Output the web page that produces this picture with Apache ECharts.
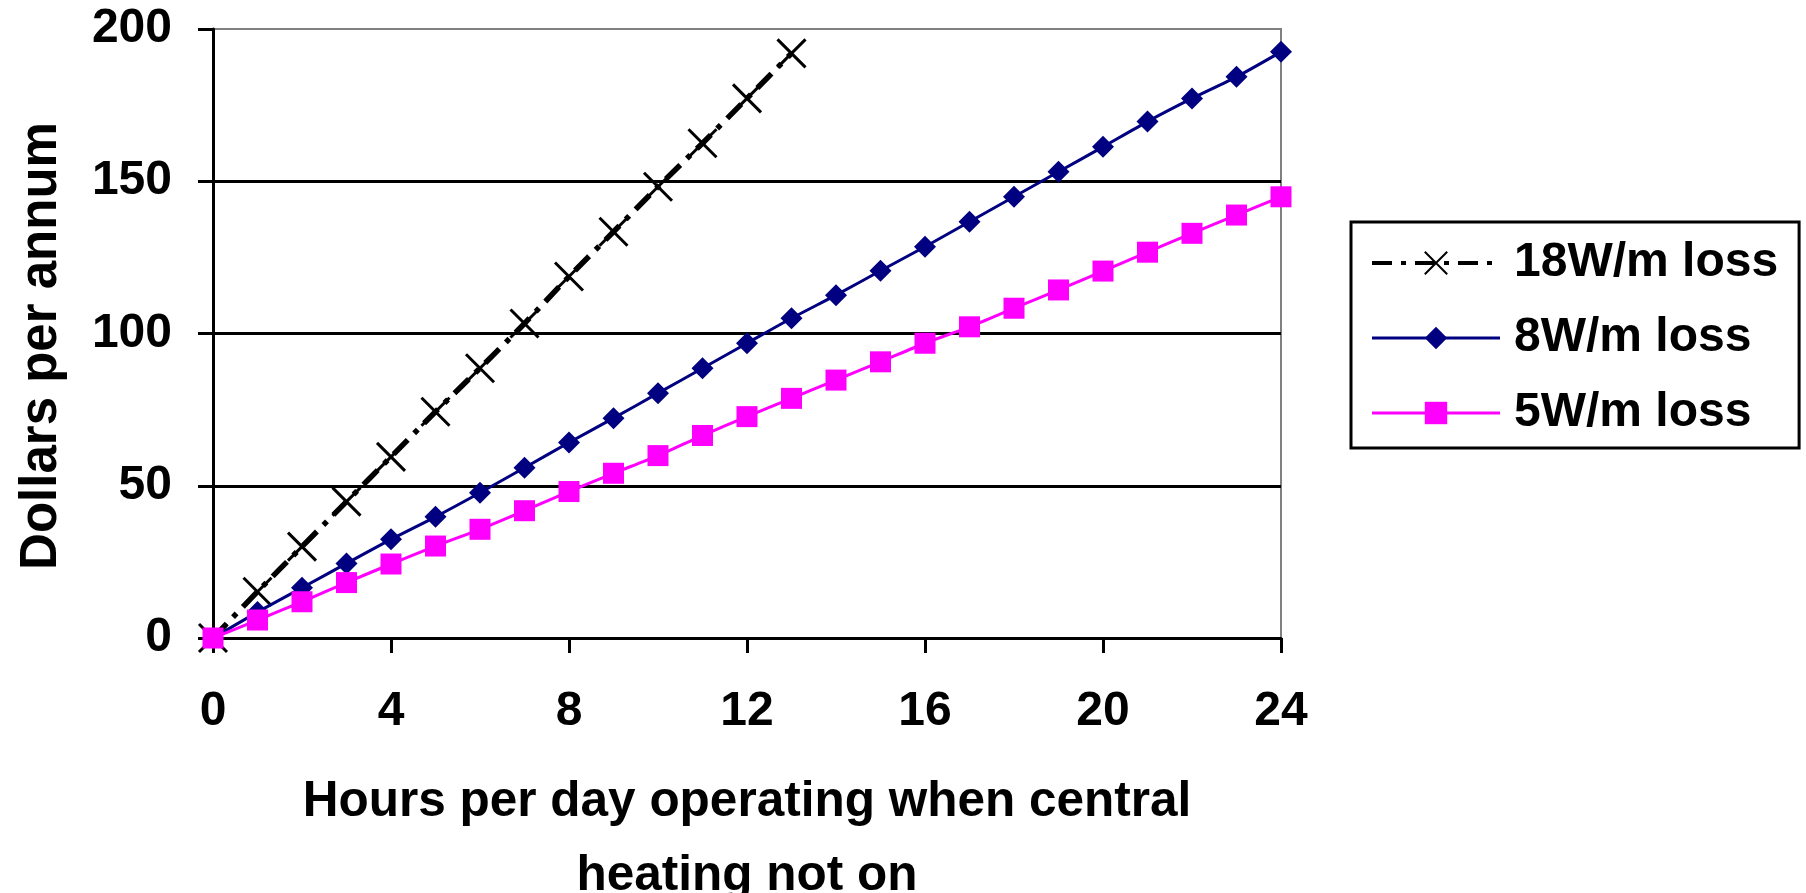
<!DOCTYPE html>
<html>
<head>
<meta charset="utf-8">
<script src="https://cdn.jsdelivr.net/npm/echarts@6/dist/echarts.min.js"></script>
<style>
  html, body { margin: 0; padding: 0; background: #fff; }
  #chart { width: 1806px; height: 893px; }
</style>
</head>
<body>
<div id="chart"></div>
<script>
// ---- data ----
var hours = [0,1,2,3,4,5,6,7,8,9,10,11,12,13,14,15,16,17,18,19,20,21,22,23,24];
var seriesNames = ['18W/m loss', '8W/m loss', '5W/m loss'];
var loss18 = [0, 15.2, 30, 44.8, 59.5, 74.3, 88.6, 103.3, 118.7, 133.4, 148.2, 162.5, 177.2, 192];
var loss8 = [0, 8.5, 16.5, 24.5, 32.4, 39.8, 47.7, 55.9, 64.2, 72.2, 80.4, 88.6, 96.8, 105, 112.6, 120.6, 128.5, 136.7, 144.9, 153.1, 161.3, 169.6, 177.2, 184.3, 192.5];
var loss5 = [0, 5.9, 11.9, 18.2, 24.3, 30.2, 35.7, 41.8, 48.1, 54.1, 59.9, 66.5, 72.7, 78.7, 84.7, 90.7, 96.8, 102.2, 108.3, 114.3, 120.5, 126.7, 132.9, 138.9, 144.9];
var xTicks = [0, 4, 8, 12, 16, 20, 24];
var yTicks = [0, 50, 100, 150, 200];
var xTitle = 'Hours per day operating when central\nheating not on';
var yTitle = 'Dollars per annum';

function pairs(vals) {
  return vals.map(function (v, i) { return [hours[i], v]; });
}

var FONT = '"Liberation Sans", Arial, sans-serif';
var chart = echarts.init(document.getElementById('chart'), null, { renderer: 'canvas' });

chart.setOption({
  animation: false,
  backgroundColor: '#ffffff',
  textStyle: { fontFamily: FONT },
  grid: {
    left: 213, right: 525, top: 29, bottom: 255,
    containLabel: false, outerBoundsMode: 'none',
    show: true, borderColor: '#808080', borderWidth: 2, backgroundColor: 'transparent'
  },
  legend: {
    orient: 'vertical',
    left: 1351, top: 222,
    padding: [17, 21, 11, 19],
    itemWidth: 128, itemHeight: 28, itemGap: 27,
    borderColor: '#000', borderWidth: 3,
    backgroundColor: '#fff',
    textStyle: { fontFamily: FONT, fontWeight: 'bold', fontSize: 48, color: '#000', lineHeight: 48, padding: [0, 0, 0, 9] },
    data: [
      { name: seriesNames[0], lineStyle: { width: 4 } },
      { name: seriesNames[1], lineStyle: { width: 3 } },
      { name: seriesNames[2], lineStyle: { width: 3 } }
    ]
  },
  xAxis: {
    type: 'value', min: 0, max: 24, interval: 4,
    name: xTitle, nameLocation: 'middle', nameGap: 127,
    nameTextStyle: { fontFamily: FONT, fontWeight: 'bold', fontSize: 49.5, color: '#000', lineHeight: 74 },
    axisLine: { show: true, onZero: false, lineStyle: { color: '#000', width: 3 } },
    axisTick: { show: true, inside: false, length: 15, lineStyle: { color: '#000', width: 3 } },
    axisLabel: {
      margin: 50, fontFamily: FONT, fontWeight: 'bold', fontSize: 48, color: '#000',
      formatter: function (v) { return xTicks.indexOf(v) >= 0 ? String(v) : ''; }
    },
    splitLine: { show: false }
  },
  yAxis: {
    type: 'value', min: 0, max: 200, interval: 50,
    name: yTitle, nameLocation: 'middle', nameGap: 146, nameRotate: 90,
    nameTextStyle: { fontFamily: FONT, fontWeight: 'bold', fontSize: 51, color: '#000', padding: [0, 25, 0, 0] },
    axisLine: { show: true, onZero: false, lineStyle: { color: '#000', width: 3 } },
    axisTick: { show: true, inside: false, length: 15, lineStyle: { color: '#000', width: 3 } },
    axisLabel: {
      margin: 41, fontFamily: FONT, fontWeight: 'bold', fontSize: 48, color: '#000',
      formatter: function (v) { return yTicks.indexOf(v) >= 0 ? String(v) : ''; }
    },
    splitLine: { show: true, showMinLine: false, showMaxLine: false, lineStyle: { color: '#000', width: 3 } }
  },
  series: [
    {
      name: seriesNames[0], type: 'line', data: pairs(loss18), smooth: 0.25,
      symbol: 'path://M0,0L10,10M10,0L0,10', symbolSize: 28,
      itemStyle: { color: '#000', borderColor: '#000', borderWidth: 3 },
      lineStyle: { color: '#000', width: 5.5, type: [20, 9, 5, 9] },
      z: 2
    },
    {
      name: seriesNames[1], type: 'line', data: pairs(loss8), smooth: 0.25,
      symbol: 'diamond', symbolSize: [22, 22],
      itemStyle: { color: '#000080' },
      lineStyle: { color: '#000080', width: 3 },
      z: 3
    },
    {
      name: seriesNames[2], type: 'line', data: pairs(loss5), smooth: 0.25,
      symbol: 'rect', symbolSize: 21,
      itemStyle: { color: '#ff00ff' },
      lineStyle: { color: '#ff00ff', width: 3 },
      z: 4
    }
  ]
});
</script>
</body>
</html>
